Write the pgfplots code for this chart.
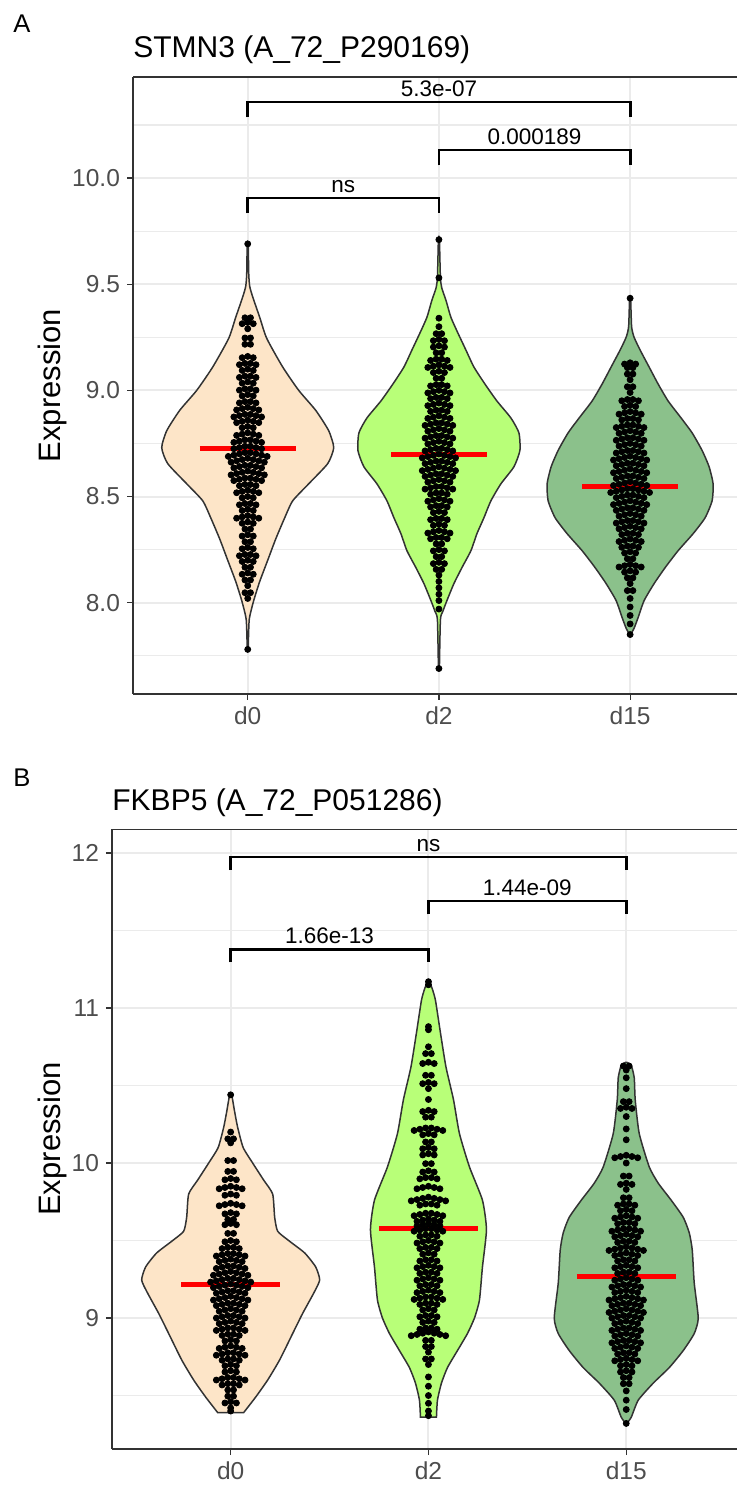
\documentclass[border=0pt]{standalone}
\usepackage{fontspec}
\setmainfont{Liberation Sans}
\usepackage{pgfplots}
\pgfplotsset{compat=1.18}
\usepackage{pgfplotstable}

\definecolor{cd0}{HTML}{FDE5C8}
\definecolor{cd2}{HTML}{B8FF78}
\definecolor{cd15}{HTML}{8BC18B}
\definecolor{gridc}{HTML}{EBEBEB}
\definecolor{g20}{HTML}{333333}
\definecolor{g30}{HTML}{4D4D4D}

% ---------- violin outlines: y, half-width in pixels, side (+1 right, -1 left) ----------
\pgfplotstableread{
y w s
7.78 0.5 1
7.92 1.5 1
8.01 6 1
8.10 12 1
8.20 20 1
8.30 28 1
8.40 37 1
8.48 45 1
8.56 61 1
8.655 80 1
8.73 86 1
8.81 81 1
8.906 68 1
9.0 51 1
9.11 35 1
9.245 19 1
9.344 12 1
9.44 5 1
9.49 2 1
9.55 1 1
9.69 0.5 1
9.69 0.5 -1
9.55 1 -1
9.49 2 -1
9.44 5 -1
9.344 12 -1
9.245 19 -1
9.11 35 -1
9.0 51 -1
8.906 68 -1
8.81 81 -1
8.73 86 -1
8.655 80 -1
8.56 61 -1
8.48 45 -1
8.40 37 -1
8.30 28 -1
8.20 20 -1
8.10 12 -1
8.01 6 -1
7.92 1.5 -1
7.78 0.5 -1
}\vAa
\pgfplotstableread{
y w s
7.69 0.5 1
7.92 1.5 1
7.96 4 1
8.01 8 1
8.09 15 1
8.165 23 1
8.245 32 1
8.325 38 1
8.40 45 1
8.48 52 1
8.56 62 1
8.64 75 1
8.717 81 1
8.80 80 1
8.87 72 1
8.95 58 1
9.03 46 1
9.11 35 1
9.19 27 1
9.27 19 1
9.344 12 1
9.425 7 1
9.48 3 1
9.53 1.5 1
9.71 0.5 1
9.71 0.5 -1
9.53 1.5 -1
9.48 3 -1
9.425 7 -1
9.344 12 -1
9.27 19 -1
9.19 27 -1
9.11 35 -1
9.03 46 -1
8.95 58 -1
8.87 72 -1
8.80 80 -1
8.717 81 -1
8.64 75 -1
8.56 62 -1
8.48 52 -1
8.40 45 -1
8.325 38 -1
8.245 32 -1
8.165 23 -1
8.09 15 -1
8.01 8 -1
7.96 4 -1
7.92 1.5 -1
7.69 0.5 -1
}\vAb
\pgfplotstableread{
y w s
7.85 0.5 1
7.88 4 1
7.93 8 1
8.01 14 1
8.09 24 1
8.165 35 1
8.245 48 1
8.325 63 1
8.40 75 1
8.48 82 1
8.56 83 1
8.64 79 1
8.717 72 1
8.80 62 1
8.87 51 1
8.95 38 1
9.03 28 1
9.11 19 1
9.19 10 1
9.25 4 1
9.30 1.5 1
9.434 0.5 1
9.434 0.5 -1
9.30 1.5 -1
9.25 4 -1
9.19 10 -1
9.11 19 -1
9.03 28 -1
8.95 38 -1
8.87 51 -1
8.80 62 -1
8.717 72 -1
8.64 79 -1
8.56 83 -1
8.48 82 -1
8.40 75 -1
8.325 63 -1
8.245 48 -1
8.165 35 -1
8.09 24 -1
8.01 14 -1
7.93 8 -1
7.88 4 -1
7.85 0.5 -1
}\vAc
\pgfplotstableread{
y w s
8.39 13 1
8.49 25 1
8.60 37 1
8.73 49 1
8.90 62 1
9.03 72 1
9.16 83 1
9.245 89 1
9.33 85 1
9.42 74 1
9.50 58 1
9.56 47 1
9.65 44 1
9.80 42 1
9.89 33 1
10.0 22 1
10.10 12.5 1
10.23 7 1
10.33 4 1
10.44 1 1
10.44 1 -1
10.33 4 -1
10.23 7 -1
10.10 12.5 -1
10.0 22 -1
9.89 33 -1
9.80 42 -1
9.65 44 -1
9.56 47 -1
9.50 58 -1
9.42 74 -1
9.33 85 -1
9.245 89 -1
9.16 83 -1
9.03 72 -1
8.90 62 -1
8.73 49 -1
8.60 37 -1
8.49 25 -1
8.39 13 -1
}\vBa
\pgfplotstableread{
y w s
8.36 8 1
8.47 9 1
8.58 13 1
8.68 19 1
8.79 29 1
8.90 39 1
9.0 46 1
9.116 51 1
9.33 54 1
9.57 58 1
9.76 54 1
9.975 41 1
10.19 31 1
10.41 25 1
10.62 17.5 1
10.84 12 1
11.05 7 1
11.12 4 1
11.17 1 1
11.17 1 -1
11.12 4 -1
11.05 7 -1
10.84 12 -1
10.62 17.5 -1
10.41 25 -1
10.19 31 -1
9.975 41 -1
9.76 54 -1
9.57 58 -1
9.33 54 -1
9.116 51 -1
9.0 46 -1
8.90 39 -1
8.79 29 -1
8.68 19 -1
8.58 13 -1
8.47 9 -1
8.36 8 -1
}\vBb
\pgfplotstableread{
y w s
8.32 0.5 1
8.36 5 1
8.47 12 1
8.58 27 1
8.68 43 1
8.79 57 1
8.90 68 1
9.0 72 1
9.226 68 1
9.44 66 1
9.55 63 1
9.65 57 1
9.76 45 1
9.87 32 1
9.975 23 1
10.19 13 1
10.406 9 1
10.55 8 1
10.63 5 1
10.65 0.5 1
10.65 0.5 -1
10.63 5 -1
10.55 8 -1
10.406 9 -1
10.19 13 -1
9.975 23 -1
9.87 32 -1
9.76 45 -1
9.65 57 -1
9.55 63 -1
9.44 66 -1
9.226 68 -1
9.0 72 -1
8.90 68 -1
8.79 57 -1
8.68 43 -1
8.58 27 -1
8.47 12 -1
8.36 5 -1
8.32 0.5 -1
}\vBc

% ---------- beeswarm rows: y level, number of points ----------
\pgfplotstableread{
y n
9.69 1
9.345 2
9.32 3
9.29 1
9.25 2
9.22 2
9.16 3
9.13 4
9.10 3
9.07 4
9.04 3
9.01 4
8.98 3
8.95 4
8.92 5
8.89 6
8.86 5
8.83 3
8.80 5
8.77 6
8.74 6
8.71 8
8.68 7
8.65 6
8.62 7
8.59 6
8.56 4
8.53 5
8.50 3
8.47 4
8.44 3
8.41 5
8.38 3
8.35 2
8.32 3
8.29 2
8.26 3
8.23 4
8.20 3
8.17 2
8.14 3
8.11 2
8.08 1
8.05 2
8.02 1
7.78 1
}\sAa
\pgfplotstableread{
y n
9.71 1
9.53 1
9.34 1
9.30 1
9.27 2
9.24 3
9.21 3
9.18 2
9.15 4
9.12 5
9.09 3
9.06 2
9.03 4
9.00 5
8.97 4
8.94 5
8.91 4
8.88 5
8.85 6
8.82 5
8.79 6
8.76 5
8.73 6
8.70 7
8.67 6
8.64 7
8.61 6
8.58 5
8.55 6
8.52 4
8.49 5
8.46 4
8.43 3
8.40 4
8.37 3
8.34 5
8.31 4
8.28 2
8.25 3
8.22 2
8.19 3
8.16 2
8.13 1
8.10 1
8.07 1
8.04 1
8.01 1
7.97 1
7.69 1
}\sAb
\pgfplotstableread{
y n
9.434 1
9.13 3
9.11 2
9.08 2
9.05 1
9.02 2
8.99 1
8.96 4
8.93 3
8.90 5
8.87 4
8.84 6
8.81 5
8.78 6
8.75 5
8.72 6
8.69 7
8.66 6
8.63 7
8.60 6
8.57 7
8.54 8
8.51 6
8.48 7
8.45 6
8.42 5
8.39 6
8.36 5
8.33 4
8.30 5
8.27 4
8.24 3
8.21 2
8.18 5
8.15 3
8.12 2
8.09 1
8.06 2
8.02 1
7.98 1
7.94 1
7.90 1
7.85 1
}\sAc
\pgfplotstableread{
y n
10.44 1
10.20 1
10.16 2
10.13 1
10.02 2
9.95 2
9.90 3
9.85 5
9.80 3
9.74 5
9.68 3
9.64 2
9.61 3
9.55 2
9.50 3
9.46 4
9.42 6
9.38 5
9.34 6
9.30 7
9.26 8
9.22 7
9.18 6
9.14 7
9.10 6
9.06 5
9.02 6
8.98 5
8.94 6
8.90 4
8.86 3
8.82 5
8.78 6
8.74 4
8.70 3
8.66 3
8.62 6
8.58 4
8.54 2
8.50 2
8.46 3
8.42 1
8.40 1
}\sBa
\pgfplotstableread{
y n
11.17 1
11.15 1
10.88 1
10.86 1
10.75 1
10.71 2
10.65 3
10.57 2
10.52 3
10.48 1
10.41 1
10.34 3
10.30 2
10.23 6
10.19 3
10.14 2
10.10 3
10.06 3
10.00 2
9.95 3
9.91 4
9.85 5
9.78 7
9.74 4
9.68 6
9.64 5
9.61 5
9.58 6
9.54 4
9.50 5
9.46 4
9.42 3
9.38 4
9.34 5
9.30 4
9.26 5
9.22 4
9.18 5
9.14 6
9.10 4
9.06 3
9.02 4
8.98 3
8.94 4
8.91 7
8.86 2
8.82 2
8.78 1
8.74 2
8.70 1
8.62 1
8.56 1
8.50 1
8.45 1
8.40 1
8.37 1
}\sBb
\pgfplotstableread{
y n
10.63 2
10.60 1
10.55 1
10.48 1
10.40 2
10.36 3
10.30 1
10.22 1
10.15 1
10.05 5
10.00 1
9.92 2
9.87 3
9.83 1
9.78 2
9.74 4
9.70 3
9.66 5
9.62 4
9.58 6
9.54 5
9.50 4
9.46 7
9.42 5
9.38 4
9.34 5
9.30 4
9.26 5
9.22 6
9.18 5
9.14 7
9.10 6
9.06 7
9.02 6
8.98 5
8.94 6
8.90 5
8.86 6
8.82 5
8.78 4
8.74 5
8.70 3
8.66 3
8.62 2
8.58 2
8.53 1
8.47 1
8.41 1
8.32 1
}\sBc

% violin: #1 table, #2 centre, #3 px per x-unit, #4 fill colour
\newcommand{\violin}[4]{%
  \addplot[fill=#4, draw=g20, line width=0.75pt, smooth, tension=0.35]
    table[x expr={#2+\thisrow{s}*\thisrow{w}/#3}, y=y] {#1} -- cycle;
}
% beeswarm: #1 table, #2 centre, #3 largest row count, #4 arm droop per slot.
% slot k of a row with n points sits at offset k-(n+1)/2; unused slots are pushed
% far below the axis (and clipped away).
\newcommand{\swarm}[4]{%
  \pgfplotsinvokeforeach{1,...,#3}{%
    \addplot[only marks, mark=*, mark size=1.5pt, draw=black, fill=black]
      table[x expr={#2+0.029*(##1-(\thisrow{n}+1)/2)},
            y expr={\thisrow{y}-#4*abs(##1-(\thisrow{n}+1)/2)-5*(\thisrow{n}<##1)}] {#1};
  }%
}

\pgfplotsset{
  vplot/.style={
    scale only axis,
    xmin=0.4,
    xtick={1,2,3}, xticklabels={d0,d2,d15},
    axis x line*=bottom, axis y line*=left,
    axis line style={g20, line width=1pt},
    tick align=outside, major tick length=3pt, minor tick length=0pt,
    tick style={g20, line width=0.6pt},
    xmajorgrids, ymajorgrids, yminorgrids,
    major grid style={gridc, line width=1pt},
    minor grid style={gridc, line width=0.55pt},
    ticklabel style={font=\fontsize{12.25}{14}\selectfont, text=g30},
    clip mode=global,
  },
  brk/.style={black, line width=1.4pt, line join=miter},
  med/.style={red, line width=2.5pt},
}

\begin{document}
\begin{tikzpicture}
\path[use as bounding box] (0,0) rectangle (368.5pt,-745pt);

% panel tags, titles, axis titles
\node[anchor=base west, inner sep=0pt, font=\fontsize{12.8}{15}\selectfont] at (6.5pt,-16pt) {A};
\node[anchor=base west, inner sep=0pt, font=\fontsize{15}{18}\selectfont] at (66.5pt,-28.5pt) {STMN3 (A\_72\_P290169)};
\node[rotate=90, anchor=base, inner sep=0pt, font=\fontsize{15.5}{18}\selectfont] at (30.5pt,-192.75pt) {Expression};

\node[anchor=base west, inner sep=0pt, font=\fontsize{12.8}{15}\selectfont] at (6.5pt,-393pt) {B};
\node[anchor=base west, inner sep=0pt, font=\fontsize{15}{18}\selectfont] at (56pt,-405pt) {FKBP5 (A\_72\_P051286)};
\node[rotate=90, anchor=base, inner sep=0pt, font=\fontsize{15.5}{18}\selectfont] at (30.5pt,-569.5pt) {Expression};

% ---------------- Panel A ----------------
\begin{axis}[vplot,
  at={(66.5pt,-347pt)}, anchor=south west,
  width=302pt, height=308.5pt,
  xmax=3.559, ymin=7.57, ymax=10.476,
  ytick={8,8.5,9,9.5,10}, yticklabels={8.0,8.5,9.0,9.5,10.0},
  minor ytick={7.75,8.25,8.75,9.25,9.75,10.25},
]
\violin{\vAa}{1}{191.2}{cd0}
\violin{\vAb}{2}{191.2}{cd2}
\violin{\vAc}{3}{191.2}{cd15}
\swarm{\sAa}{1}{8}{0.006}
\swarm{\sAb}{2}{7}{0.006}
\swarm{\sAc}{3}{8}{0.006}
\addplot[med] coordinates {(0.75,8.728) (1.25,8.728)};
\addplot[med] coordinates {(1.75,8.698) (2.25,8.698)};
\addplot[med] coordinates {(2.75,8.549) (3.25,8.549)};
\addplot[brk] coordinates {(1,10.286) (1,10.358) (3,10.358) (3,10.286)};
\addplot[brk] coordinates {(2,10.060) (2,10.132) (3,10.132) (3,10.060)};
\addplot[brk] coordinates {(1,9.834) (1,9.906) (2,9.906) (2,9.834)};
\node[anchor=base, inner sep=0pt, yshift=2.75pt, font=\fontsize{11.25}{13}\selectfont] at (axis cs:2,10.358) {5.3e-07};
\node[anchor=base, inner sep=0pt, yshift=2.75pt, font=\fontsize{11.25}{13}\selectfont] at (axis cs:2.5,10.132) {0.000189};
\node[anchor=base, inner sep=0pt, yshift=2.75pt, font=\fontsize{11.25}{13}\selectfont] at (axis cs:1.5,9.906) {ns};
\draw[g20, line width=1pt] (rel axis cs:0,1) -- (rel axis cs:1,1);
\end{axis}

% ---------------- Panel B ----------------
\begin{axis}[vplot,
  at={(56pt,-724.5pt)}, anchor=south west,
  width=312.5pt, height=310pt,
  xmax=3.56, ymin=8.155, ymax=12.155,
  ytick={9,10,11,12}, yticklabels={9,10,11,12},
  minor ytick={8.5,9.5,10.5,11.5},
]
\violin{\vBa}{1}{197.8}{cd0}
\violin{\vBb}{2}{197.8}{cd2}
\violin{\vBc}{3}{197.8}{cd15}
\swarm{\sBa}{1}{8}{0.008}
\swarm{\sBb}{2}{7}{0.008}
\swarm{\sBc}{3}{7}{0.008}
\addplot[med] coordinates {(0.75,9.215) (1.25,9.215)};
\addplot[med] coordinates {(1.75,9.58) (2.25,9.58)};
\addplot[med] coordinates {(2.75,9.265) (3.25,9.265)};
\addplot[brk] coordinates {(1,11.89) (1,11.975) (3,11.975) (3,11.89)};
\addplot[brk] coordinates {(2,11.605) (2,11.69) (3,11.69) (3,11.605)};
\addplot[brk] coordinates {(1,11.295) (1,11.38) (2,11.38) (2,11.295)};
\node[anchor=base, inner sep=0pt, yshift=2.75pt, font=\fontsize{11.25}{13}\selectfont] at (axis cs:2,11.975) {ns};
\node[anchor=base, inner sep=0pt, yshift=2.75pt, font=\fontsize{11.25}{13}\selectfont] at (axis cs:2.5,11.69) {1.44e-09};
\node[anchor=base, inner sep=0pt, yshift=2.75pt, font=\fontsize{11.25}{13}\selectfont] at (axis cs:1.5,11.38) {1.66e-13};
\draw[g20, line width=1pt] (rel axis cs:0,1) -- (rel axis cs:1,1);
\end{axis}
\end{tikzpicture}
\end{document}
